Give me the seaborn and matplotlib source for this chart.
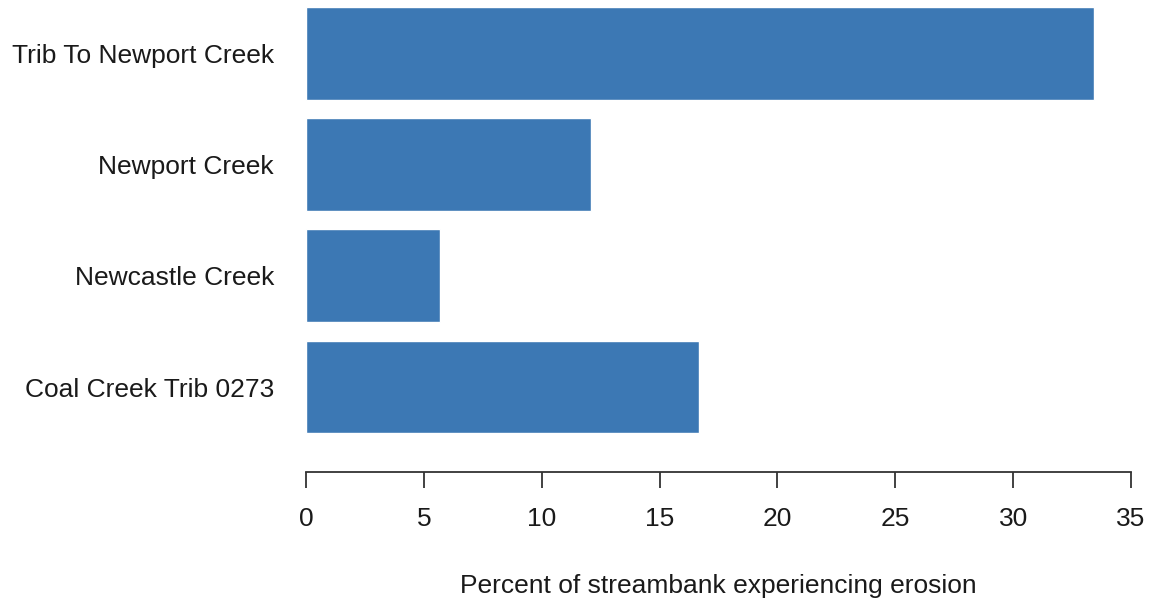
import pandas as pd
import matplotlib
matplotlib.use("Agg")
import matplotlib.pyplot as plt
import seaborn as sns

streams = ["Trib To Newport Creek", "Newport Creek", "Newcastle Creek", "Coal Creek Trib 0273"]
pct_eroding = [33.45, 12.1, 5.68, 16.68]

df = pd.DataFrame({"stream": streams, "pct": pct_eroding})

sns.set_style("white")
plt.rcParams["font.family"] = ["Liberation Sans", "DejaVu Sans"]
plt.rcParams["text.color"] = "#1a1a1a"
plt.rcParams["xtick.color"] = "#1a1a1a"
plt.rcParams["ytick.color"] = "#1a1a1a"
plt.rcParams["axes.labelcolor"] = "#1a1a1a"

fig = plt.figure(figsize=(11.56, 6.04), dpi=100)
ax = fig.add_axes([306 / 1156, 1 - 472 / 604, (1131 - 306) / 1156, (472 - 7) / 604])

sns.barplot(data=df, x="pct", y="stream", orient="h", color="#3C78B4",
            saturation=1, width=0.833, ax=ax)

ax.set_xlim(0, 35)
ax.set_ylim(3.764, -0.4167)
ax.set_xticks(range(0, 36, 5))
ax.set_xlabel("Percent of streambank experiencing erosion", fontsize=19, labelpad=31)
ax.set_ylabel("")

for side in ["top", "right", "left"]:
    ax.spines[side].set_visible(False)
ax.spines["bottom"].set_color("#333333")
ax.spines["bottom"].set_linewidth(1.3)
ax.tick_params(axis="x", bottom=True, length=11.5, width=1.3, color="#333333",
               labelsize=19, pad=14)
ax.tick_params(axis="y", left=False, length=0, labelsize=19, pad=23)

fig.savefig("out.png", dpi=100)
